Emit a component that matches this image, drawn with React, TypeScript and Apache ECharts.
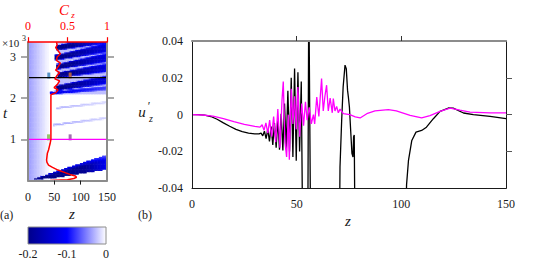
import React, { useEffect, useRef } from 'react';
import * as echarts from 'echarts';

// ---------------- Panel (a) data ----------------
const zTickValues = [50, 100];
const tTickValues = [1000, 2000, 3000];
const colorbarLabels = ['-0.2', '-0.1', '0'];
const heatColors = ['#00008a', '#0000ff', '#ffffff'];

// red curve C_z(t)
const czT = [0, 20, 50, 80, 110, 150, 200, 256, 320, 378, 440, 500, 580, 663, 744, 824, 900, 1000, 1068, 1200, 1500, 1800, 2000, 2085, 2130, 2200, 2260, 2330, 2420, 2470, 2560, 2620, 2680, 2760, 2850, 2920, 3000, 3080, 3150, 3230, 3290, 3360];
const czVal = [0.28, 0.5, 0.58, 0.615, 0.6, 0.53, 0.46, 0.38, 0.31, 0.26, 0.24, 0.235, 0.24, 0.245, 0.26, 0.27, 0.28, 0.29, 0.29, 0.29, 0.29, 0.29, 0.29, 0.29, 0.35, 0.38, 0.33, 0.37, 0.4, 0.34, 0.37, 0.4, 0.35, 0.38, 0.41, 0.36, 0.37, 0.41, 0.38, 0.35, 0.37, 0.36];

// streaks of the space-time field (start z, start t, t reached at z = 150)
const streakZ0 = [57, 54, 57, 60, 57, 45, 50, 55];
const streakT0 = [3230, 2990, 2770, 2570, 2255, 2130, 1350, 1760];
const streakT1 = [3450, 3230, 2990, 2745, 2450, 2250, 1520, 1900];
const streakDepth = [0.2, 0.2, 0.2, 0.2, 0.2, 0.1, 0.035, 0.03];
const streakHalfStart = [70, 70, 70, 70, 70, 40, 20, 20];
const streakHalfEnd = [130, 130, 125, 120, 120, 60, 25, 25];

// lower wedge
const wedgeZ = [10, 30, 50, 70, 92, 110, 130, 150];
const wedgeLowT = [40, 60, 85, 120, 175, 210, 250, 290];
const wedgeHighT = [40, 125, 205, 290, 380, 455, 540, 620];
const wedgeDepth = [0.2, 0.2, 0.2, 0.2, 0.2, 0.19, 0.15, 0.11];

const backgroundEdgeZ = 42;
const backgroundDepth = 0.04;
const hazeStartT = 2100;
const hazeDepth = 0.025;

const crossTimes = [2500, 1000];
const markerZ = [39.5, 80, 39, 80];
const markerT = [2550, 2550, 1050, 1050];

// ---------------- Panel (b) data ----------------
const blackZ = [0, 3, 6, 9, 12, 15, 18, 21, 24, 27, 30, 32, 33, 33.8, 34.6, 35.4, 36.2, 37.0, 37.8, 38.6, 39.4, 40.2, 41.0, 41.8, 42.6, 43.4, 44.2, 45.0, 45.8, 46.6, 47.4, 48.2, 49.0, 49.8, 50.6, 51.4, 52.2, 52.9, 55.3, 55.8, 56.7, 70.4, 70.7, 71.5, 72.2, 73.1, 73.7, 74.3, 74.7, 75.2, 75.8, 76.4, 76.9, 77.2, 77.5, 77.9, 101.8, 102.5, 103.4, 105, 107, 109.7, 112, 115.3, 118.5, 122.5, 124.8, 129.7, 134.4, 142.4, 150];
const blackU = [0, 0, -0.0003, -0.001, -0.0025, -0.0045, -0.0063, -0.008, -0.0092, -0.01, -0.0104, -0.0104, -0.01, -0.0115, -0.009, -0.013, -0.008, -0.0145, -0.0065, -0.0165, -0.0045, -0.018, -0.0025, -0.019, 0.0005, -0.0195, 0.006, -0.0185, 0.013, -0.02, 0.02, -0.023, 0.025, -0.025, 0.023, -0.02, 0.018, -0.07, -0.07, 0.07, -0.07, -0.07, -0.0286, -0.003, 0.015, 0.0269, 0.025, 0.0133, 0.0096, 0.004, -0.0086, -0.021, -0.023, -0.012, -0.011, -0.07, -0.07, -0.038, -0.025, -0.014, -0.0095, -0.0086, -0.0068, -0.0022, 0.0018, 0.0036, 0.0035, 0.0009, 0, -0.0009, -0.0022];

const magentaZ = [0, 5, 10, 15, 20, 25, 30, 32.5, 33.5, 34.4, 35.3, 36.2, 37.1, 38.0, 39.0, 40.0, 41.0, 42.0, 43.0, 43.6, 44.4, 45.2, 46.0, 46.5, 47.4, 48.2, 49.0, 49.8, 50.6, 51.4, 52.4, 53.3, 54.2, 55.0, 56.0, 57.0, 58.0, 58.6, 59.6, 60.6, 61.9, 62.7, 63.5, 64.3, 65.1, 66.0, 67.0, 67.5, 68.3, 69.1, 69.9, 70.7, 72.3, 75.4, 78, 80.3, 83.5, 87.4, 93.8, 97.6, 104.2, 109.7, 113.7, 118.5, 123.3, 128, 132.8, 142.4, 150];
const magentaU = [0, -0.0002, -0.0008, -0.0022, -0.0038, -0.0053, -0.0064, -0.0068, -0.0055, -0.0085, -0.0045, -0.01, -0.003, -0.012, -0.001, -0.015, 0.003, -0.018, 0.008, 0.018, -0.015, -0.023, 0.0, -0.0245, 0.014, -0.005, 0.01, -0.008, 0.015, -0.012, 0.006, -0.006, 0.007, -0.003, 0.004, -0.005, 0.0, -0.005, 0.0096, -0.001, 0.0196, 0.002, 0.01, 0.016, 0.002, 0.009, 0.001, 0.0087, 0.002, 0.0045, 0.001, 0.003, 0.0005, 0.0, -0.0012, -0.0018, 0.0005, 0.002, 0.0027, 0.002, -0.0004, -0.0017, -0.0005, 0.0018, 0.0036, 0.0024, 0.0014, 0.001, 0.001];

// ---------------- helpers ----------------
const Z_MAX = 150;
const T_MAX = 3360;
const Z_STEP = 3;
const T_STEP = 30;
const FONT = 'Liberation Serif';

function lerp(xs: number[], ys: number[], x: number) {
  const n = xs.length;
  if (x <= xs[0]) return ys[0];
  if (x >= xs[n - 1]) return ys[n - 1];
  for (let i = 1; i < n; i++) {
    if (x <= xs[i]) {
      const f = (x - xs[i - 1]) / (xs[i] - xs[i - 1]);
      return ys[i - 1] + f * (ys[i] - ys[i - 1]);
    }
  }
  return ys[n - 1];
}

function field(z: number, t: number) {
  let v = 0;
  if (z < backgroundEdgeZ) v -= backgroundDepth * (1 - z / backgroundEdgeZ);
  const zr = lerp(czT, czVal, t) * Z_MAX;
  if (t > hazeStartT && z > zr) v -= hazeDepth;
  for (let i = 0; i < streakZ0.length; i++) {
    const z0 = streakZ0[i];
    if (z < z0 - 2) continue;
    const f = Math.max(0, (z - z0) / (Z_MAX - z0));
    const tc = streakT0[i] + (streakT1[i] - streakT0[i]) * f;
    const hw = streakHalfStart[i] + (streakHalfEnd[i] - streakHalfStart[i]) * f;
    const d = Math.abs(t - tc) / hw;
    if (d < 1) v -= streakDepth[i] * (1 - 0.5 * f) * (1 - d * d * d * d);
  }
  if (z >= wedgeZ[0]) {
    const lo = lerp(wedgeZ, wedgeLowT, z);
    const hi = lerp(wedgeZ, wedgeHighT, z);
    if (t >= lo - T_STEP / 2 && t <= hi) {
      const fr = Math.max(0, (t - lo) / Math.max(1, hi - lo));
      const soft = fr < 0.65 ? 1 : 1 - ((fr - 0.65) / 0.35) * 0.45;
      v -= lerp(wedgeZ, wedgeDepth, z) * soft;
    }
  }
  return Math.max(-0.2, v);
}

function buildHeat() {
  const zCats: string[] = [];
  const tCats: string[] = [];
  const nz = Math.round(Z_MAX / Z_STEP);
  const nt = Math.round(T_MAX / T_STEP);
  for (let i = 0; i < nz; i++) zCats.push(String(i * Z_STEP + Z_STEP / 2));
  for (let j = 0; j < nt; j++) tCats.push(String(j * T_STEP + T_STEP / 2));
  const data: number[][] = [];
  for (let i = 0; i < nz; i++) {
    for (let j = 0; j < nt; j++) {
      const v = field(i * Z_STEP + Z_STEP / 2, j * T_STEP + T_STEP / 2);
      if (v < -0.002) data.push([i, j, v]);
    }
  }
  return { zCats, tCats, data };
}

const txt = (x: number, y: number, text: string, size: number, opts: any = {}) => ({
  type: 'text',
  x,
  y,
  z: 100,
  style: {
    text,
    fill: opts.fill || '#1a1a1a',
    fontFamily: FONT,
    fontSize: size,
    fontStyle: opts.italic ? 'italic' : 'normal',
    textAlign: opts.align || 'center',
    textVerticalAlign: 'middle',
    align: opts.align || 'center',
    verticalAlign: 'middle',
  },
});

export default function App() {
  const ref = useRef<HTMLDivElement>(null);
  useEffect(() => {
    if (!ref.current) return;
    const chart = echarts.init(ref.current, undefined, { renderer: 'svg' });
    const heat = buildHeat();
    const labelStyle = { fontFamily: FONT, fontSize: 12, color: '#1a1a1a' };
    const gray = '#8c8c8c';

    const option: any = {
      animation: false,
      textStyle: { fontFamily: FONT },
      grid: [
        { left: 28, top: 42.2, width: 79, height: 138.4 },
        { left: 192, top: 41, width: 314, height: 147.3 },
      ],
      visualMap: {
        type: 'continuous',
        show: false,
        seriesIndex: 0,
        dimension: 2,
        min: -0.2,
        max: 0,
        inRange: { color: heatColors },
      },
      xAxis: [
        { type: 'category', gridIndex: 0, data: heat.zCats, show: false },
        {
          type: 'value', gridIndex: 0, position: 'bottom', min: 0, max: Z_MAX, interval: 50, z: 5,
          axisLine: { onZero: false, lineStyle: { color: gray, width: 2 } },
          axisTick: { show: true, length: 4, customValues: zTickValues, lineStyle: { color: '#1a1a1a', width: 1 } },
          axisLabel: { ...labelStyle, margin: 10 },
          splitLine: { show: false },
        },
        {
          type: 'value', gridIndex: 0, position: 'top', min: 0, max: 1, interval: 0.5, z: 6,
          axisLine: { onZero: false, lineStyle: { color: '#ff0000', width: 1.5 } },
          axisTick: { show: true, length: 5, lineStyle: { color: '#ff0000', width: 1.2 } },
          axisLabel: { ...labelStyle, color: '#ff0000', margin: 10, formatter: (v: number) => (v === 0.5 ? '0.5' : String(v)) },
          splitLine: { show: false },
        },
        {
          type: 'value', gridIndex: 1, position: 'bottom', min: 0, max: Z_MAX, interval: 50, z: 5,
          axisLine: { onZero: false, lineStyle: { color: '#1a1a1a', width: 1 } },
          axisTick: { show: false },
          axisLabel: { ...labelStyle, margin: 10 },
          splitLine: { show: false },
        },
        {
          type: 'value', gridIndex: 1, position: 'top', min: 0, max: Z_MAX, interval: 50, z: 5,
          axisLine: { onZero: false, lineStyle: { color: gray, width: 2 } },
          axisTick: { show: true, length: 5, customValues: zTickValues, lineStyle: { color: '#333', width: 1 } },
          axisLabel: { show: false },
          splitLine: { show: false },
        },
      ],
      yAxis: [
        { type: 'category', gridIndex: 0, data: heat.tCats, show: false },
        {
          type: 'value', gridIndex: 0, position: 'left', min: 0, max: T_MAX, interval: 1000, z: 5,
          axisLine: { onZero: false, lineStyle: { color: gray, width: 2 } },
          axisTick: { show: true, length: 7, customValues: tTickValues, lineStyle: { color: gray, width: 1.5 } },
          axisLabel: { ...labelStyle, margin: 12, customValues: tTickValues, formatter: (v: number) => String(Math.round(v / 1000)) },
          splitLine: { show: false },
        },
        {
          type: 'value', gridIndex: 0, position: 'right', min: 0, max: T_MAX, interval: 1000, z: 5,
          axisLine: { onZero: false, lineStyle: { color: gray, width: 2 } },
          axisTick: { show: true, length: 7, customValues: tTickValues, lineStyle: { color: gray, width: 1.5 } },
          axisLabel: { show: false },
          splitLine: { show: false },
        },
        {
          type: 'value', gridIndex: 1, position: 'left', min: -0.04, max: 0.04, interval: 0.02, z: 5,
          axisLine: { onZero: false, lineStyle: { color: '#1a1a1a', width: 1 } },
          axisTick: { show: false },
          axisLabel: { ...labelStyle, margin: 9, formatter: (v: number) => (Math.abs(v) < 1e-9 ? '0' : v.toFixed(2)) },
          splitLine: { show: false },
        },
        {
          type: 'value', gridIndex: 1, position: 'right', min: -0.04, max: 0.04, interval: 0.02, z: 5,
          axisLine: { onZero: false, lineStyle: { color: '#1a1a1a', width: 1 } },
          axisTick: { show: true, length: 6, customValues: [-0.02, 0, 0.02], lineStyle: { color: '#555', width: 1 } },
          axisLabel: { show: false },
          splitLine: { show: false },
        },
      ],
      series: [
        {
          type: 'heatmap', xAxisIndex: 0, yAxisIndex: 0, data: heat.data,
          progressive: 0, emphasis: { disabled: true }, itemStyle: { borderWidth: 0 },
        },
        {
          type: 'line', xAxisIndex: 1, yAxisIndex: 1, symbol: 'none', silent: true,
          data: [[0, crossTimes[0]], [Z_MAX, crossTimes[0]]],
          lineStyle: { color: '#000000', width: 1.2 },
        },
        {
          type: 'line', xAxisIndex: 1, yAxisIndex: 1, symbol: 'none', silent: true,
          data: [[0, crossTimes[1]], [Z_MAX, crossTimes[1]]],
          lineStyle: { color: '#ff00ff', width: 1.2 },
        },
        {
          type: 'line', xAxisIndex: 2, yAxisIndex: 1, symbol: 'none', silent: true,
          data: czVal.map((c, i) => [c, czT[i]]),
          lineStyle: { color: '#ff0000', width: 1.5 },
        },
        {
          type: 'scatter', xAxisIndex: 1, yAxisIndex: 1, symbol: 'rect', symbolSize: [3, 6], silent: true,
          data: markerZ.map((z, i) => ({
            value: [z, markerT[i]],
            itemStyle: { color: ['#2f78b7', '#d9742c', '#7db542', '#8a4d9a'][i] },
          })),
        },
        {
          type: 'line', xAxisIndex: 3, yAxisIndex: 3, symbol: 'none', silent: true, clip: true,
          data: blackZ.map((z, i) => [z, blackU[i]]),
          lineStyle: { color: '#000000', width: 1.3 },
        },
        {
          type: 'line', xAxisIndex: 3, yAxisIndex: 3, symbol: 'none', silent: true, clip: true,
          data: magentaZ.map((z, i) => [z, magentaU[i]]),
          lineStyle: { color: '#ff00ff', width: 1.3 },
        },
      ],
      graphic: [
        txt(64, 10, 'C', 15, { italic: true, fill: '#ff0000' }),
        txt(73, 14.5, 'z', 9, { italic: true, fill: '#ff0000' }),
        txt(2, 43, '×10', 11, { align: 'left' }),
        txt(24, 38, '3', 8),
        txt(5, 113, 't', 15, { italic: true }),
        txt(72, 214, 'z', 15, { italic: true }),
        txt(0, 215, '(a)', 12, { align: 'left' }),
        {
          type: 'rect', z: 100,
          shape: { x: 28, y: 227, width: 78, height: 17 },
          style: {
            fill: new echarts.graphic.LinearGradient(0, 0, 1, 0, [
              { offset: 0, color: heatColors[0] },
              { offset: 0.5, color: heatColors[1] },
              { offset: 1, color: heatColors[2] },
            ]),
            stroke: '#8c8c8c',
            lineWidth: 1,
          },
        },
        txt(28, 253.5, colorbarLabels[0], 12),
        txt(67, 253.5, colorbarLabels[1], 12),
        txt(106, 253.5, colorbarLabels[2], 12),
        txt(138, 215, '(b)', 12, { align: 'left' }),
        txt(348, 221, 'z', 15, { italic: true }),
        txt(142, 112, 'u', 15, { italic: true }),
        txt(149, 106, '′', 12),
        txt(151, 118, 'z', 10, { italic: true }),
      ],
    };
    chart.setOption(option);
    return () => chart.dispose();
  }, []);
  return <div ref={ref} style={{ position: 'absolute', left: 0, top: 0, width: 546, height: 261 }} />;
}
